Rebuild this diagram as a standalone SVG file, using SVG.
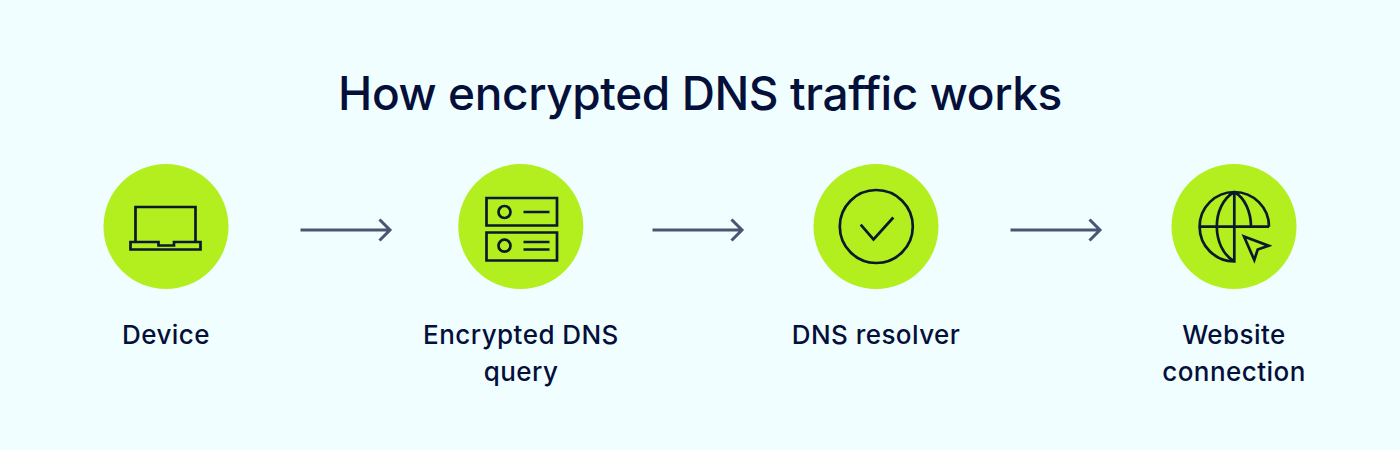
<svg xmlns="http://www.w3.org/2000/svg" width="1400" height="450" viewBox="0 0 1400 450">
<style>
.title{font:500 46px Inter,"Liberation Sans",sans-serif;fill:#04103a;text-anchor:middle;letter-spacing:-0.4px}
.label{font:500 26px Inter,"Liberation Sans",sans-serif;fill:#04103a;text-anchor:middle;letter-spacing:0.45px}
.disc{fill:#b3ee1e}
.icon{fill:none;stroke:#0a1a2c;stroke-width:2.7}
.conn{fill:none;stroke:#4a5572;stroke-width:3}
</style>
<rect width="1400" height="450" fill="#f0feff"/>
<text class="title" x="700" y="109.500">How encrypted DNS traffic works</text>
<g id="connectors">
<path class="conn" d="M300.500 230H390M379.500 219.500L390 230L379.500 240.500"/>
<path class="conn" d="M652.500 230H742M731.500 219.500L742 230L731.500 240.500"/>
<path class="conn" d="M1010.500 230H1100M1089.500 219.500L1100 230L1089.500 240.500"/>
</g>
<g id="device">
<circle class="disc" cx="166" cy="226.500" r="62.500"/>
<path class="icon" d="M135.500 242V207H195.500V242M130.500 242H158.500V245.500H174V242H200.500V249.500H130.500Z"/>
<text class="label" x="166" y="343.500">Device</text>
</g>
<g id="query">
<circle class="disc" cx="520.800" cy="226.500" r="62.500"/>
<path class="icon" d="M486.500 198H557V225.500H486.500ZM486.500 232.500H557V260.500H486.500ZM523.500 212H549.500M523.500 242H549.500M523.500 249.500H549.500"/>
<circle class="icon" cx="504.500" cy="212" r="6"/>
<circle class="icon" cx="504.500" cy="245.700" r="6"/>
<text class="label" x="521" y="343.500">Encrypted DNS</text>
<text class="label" x="521" y="380.500">query</text>
</g>
<g id="resolver">
<circle class="disc" cx="876" cy="226.500" r="62.500"/>
<circle class="icon" cx="876.300" cy="226.500" r="36.500"/>
<path class="icon" d="M860.700 224.700L873.500 239.500L893.300 217.500"/>
<text class="label" x="876" y="343.500">DNS resolver</text>
</g>
<g id="website">
<circle class="disc" cx="1234" cy="226.500" r="62.500"/>
<path class="icon" d="M1269 226.700A34.700 34.700 0 0 0 1199.600 226.700A34.700 34.700 0 0 0 1234.300 261.400V192M1199.600 226.700H1269M1234.300 192C1211 205 1211 248 1234.300 261.400M1234.300 192C1245 198 1251 212 1251 226.700"/>
<path class="icon" d="M1244 236.500L1268.500 245.700L1257.700 249.500L1254.300 260Z"/>
<text class="label" x="1234" y="343.500">Website</text>
<text class="label" x="1234" y="380.500">connection</text>
</g>
</svg>
